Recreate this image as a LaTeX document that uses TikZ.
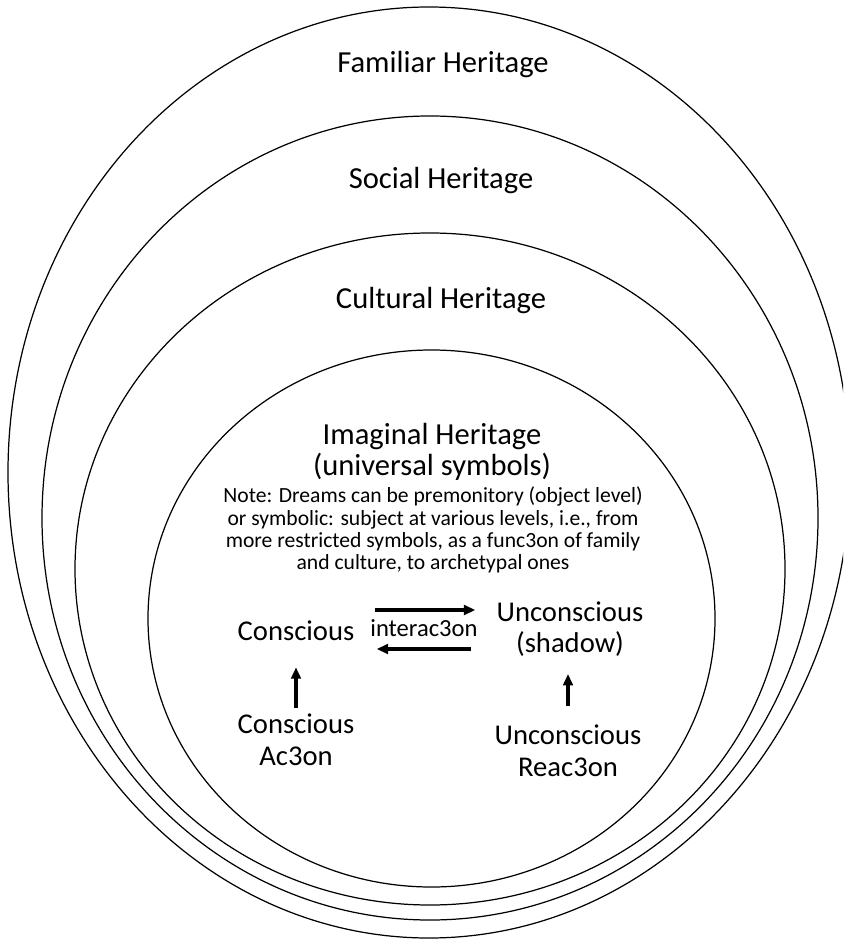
\documentclass[tikz,border=0pt]{standalone}
\usepackage{fontspec}
\setmainfont{Carlito}
\usetikzlibrary{arrows.meta}

\tikzset{
  ring/.style={line width=0.7pt},
  heading/.style={font=\fontsize{17.4}{17.4}\selectfont, inner sep=0pt, align=center},
  notetext/.style={font=\fontsize{12.3}{12.6}\selectfont, inner sep=0pt, align=center},
  mindtext/.style={font=\fontsize{16.3}{18}\selectfont, inner sep=0pt, align=center},
  flow/.style={line width=2pt, -{Triangle[length=6.5pt,width=5.5pt]}},
}

\begin{document}
\begin{tikzpicture}[x=0.02cm, y=-0.02cm]
	%%%%% canvas %%%%%
	\useasboundingbox (0,0) rectangle (843,945);
	\clip (0,0) rectangle (843,945);
	
	%%%%% rings %%%%%
	\draw[ring] (429,472.5) ellipse [x radius=421, y radius=465.5];
	\draw[ring] (430,518) ellipse [x radius=388, y radius=402];
	\draw[ring] (430,569) ellipse [x radius=355, y radius=336];
	\draw[ring] (431.5,618.5) ellipse [x radius=283.5, y radius=268.5];
	
	%%%%% headings %%%%%
	\node[heading] (fam) at (443,65) {Familiar Heritage};
	\node[heading] (soc) at (441,181) {Social Heritage};
	\node[heading] (cult) at (441,301) {Cultural Heritage};
	\node[heading] (imag) at (432,452) {Imaginal Heritage\\(universal symbols)};
	\node[notetext] (note) at (433,530) {Note: Dreams can be premonitory (object level)\\or symbolic: subject at various levels, i.e., from\\more restricted symbols, as a func3on of family\\and culture, to archetypal ones};
	
	%%%%% inner diagram %%%%%
	\node[mindtext] (consc) at (296,631) {Conscious};
	\node[font=\fontsize{14}{14}\selectfont, inner sep=0pt] (interac) at (424,628) {interac3on};
	\node[mindtext] (unconsc) at (570,629) {Unconscious\\(shadow)};
	\node[mindtext] (cact) at (296,740) {Conscious\\Ac3on};
	\node[mindtext] (ureact) at (568,751) {Unconscious\\Reac3on};
	
	\draw[flow] ([shift={(20,-21)}]consc.east) -- ([shift={(-21,-21)}]consc.east -| unconsc.west);
	\draw[flow] ([shift={(-25,18)}]consc.east -| unconsc.west) -- ([shift={(22,18)}]consc.east);
	
	\draw[flow, shorten <=0.12cm, shorten >=0.52cm] (cact.north) -- (cact.north |- consc.south);
	\draw[flow, shorten <=0.38cm, shorten >=0.34cm] (ureact.north) -- (ureact.north |- unconsc.south);
	
\end{tikzpicture}
\end{document}
